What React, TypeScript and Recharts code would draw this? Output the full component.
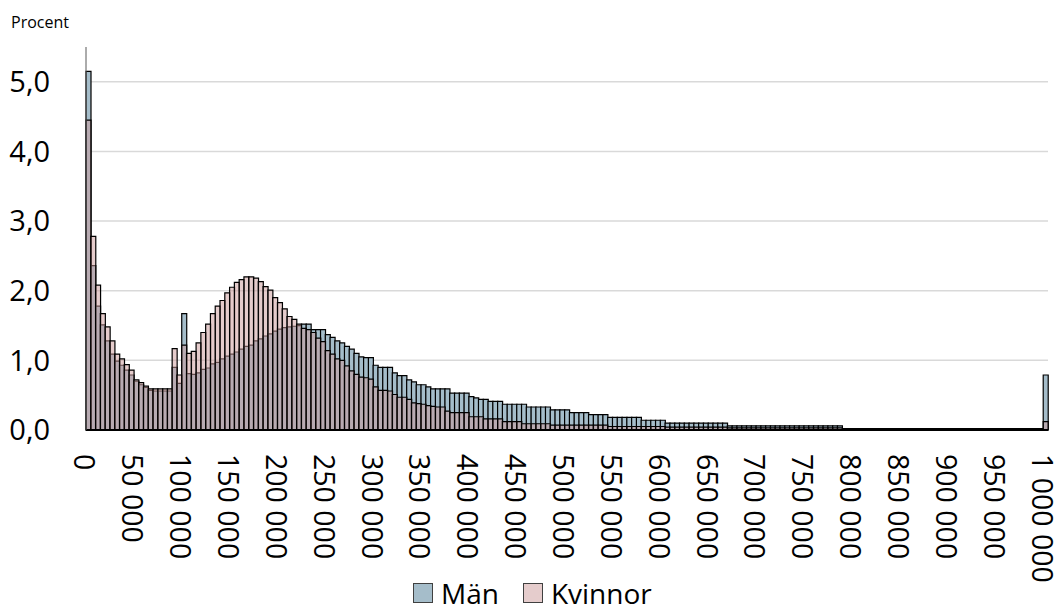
import { BarChart, Bar, XAxis, YAxis, CartesianGrid } from "recharts";

// inkomstklasser à 5 000 kr, 0 .. 1 000 000
const BINS = Array.from({ length: 201 }, (_, i) => i * 5000);

const MEN = [
  5.15, 2.36, 1.78, 1.51, 1.28, 1.09, 0.99, 0.93, 0.86, 0.79,
  0.70, 0.65, 0.61, 0.57, 0.56, 0.56, 0.56, 0.56, 0.90, 0.67,
  1.67, 0.81, 0.80, 0.82, 0.87, 0.89, 0.95, 0.97, 1.02, 1.06,
  1.09, 1.12, 1.16, 1.20, 1.22, 1.28, 1.31, 1.35, 1.38, 1.42,
  1.45, 1.47, 1.48, 1.49, 1.50, 1.52, 1.52, 1.44, 1.44, 1.44,
  1.37, 1.33, 1.28, 1.25, 1.20, 1.16, 1.10, 1.05, 1.04, 1.04,
  0.93, 0.90, 0.90, 0.90, 0.82, 0.78, 0.78, 0.72, 0.69, 0.65,
  0.65, 0.62, 0.59, 0.59, 0.59, 0.59, 0.53, 0.53, 0.53, 0.53,
  0.48, 0.46, 0.44, 0.44, 0.41, 0.41, 0.41, 0.37, 0.37, 0.37,
  0.37, 0.37, 0.33, 0.33, 0.33, 0.33, 0.33, 0.29, 0.29, 0.29,
  0.29, 0.25, 0.25, 0.25, 0.25, 0.22, 0.22, 0.22, 0.22, 0.18,
  0.18, 0.18, 0.18, 0.18, 0.18, 0.18, 0.14, 0.14, 0.14, 0.14,
  0.14, 0.10, 0.10, 0.10, 0.10, 0.10, 0.10, 0.10, 0.10, 0.10,
  0.10, 0.10, 0.10, 0.10, 0.06, 0.06, 0.06, 0.06, 0.06, 0.06,
  0.06, 0.06, 0.06, 0.06, 0.06, 0.06, 0.06, 0.06, 0.06, 0.06,
  0.06, 0.06, 0.06, 0.06, 0.06, 0.06, 0.06, 0.06, 0.02, 0.02,
  0.02, 0.02, 0.02, 0.02, 0.02, 0.02, 0.02, 0.02, 0.02, 0.02,
  0.02, 0.02, 0.02, 0.02, 0.02, 0.02, 0.02, 0.02, 0.02, 0.02,
  0.02, 0.02, 0.02, 0.02, 0.02, 0.02, 0.02, 0.02, 0.02, 0.02,
  0.02, 0.02, 0.02, 0.02, 0.02, 0.02, 0.02, 0.02, 0.02, 0.02,
  0.79,
];

const WOMEN = [
  4.45, 2.78, 2.08, 1.67, 1.48, 1.28, 1.09, 1.02, 0.94, 0.86,
  0.72, 0.68, 0.63, 0.59, 0.59, 0.59, 0.59, 0.59, 1.17, 0.79,
  1.22, 1.10, 1.13, 1.25, 1.40, 1.52, 1.67, 1.78, 1.86, 1.97,
  2.05, 2.12, 2.16, 2.20, 2.20, 2.18, 2.13, 2.06, 2.01, 1.90,
  1.83, 1.74, 1.63, 1.59, 1.52, 1.46, 1.44, 1.40, 1.32, 1.27,
  1.14, 1.09, 1.02, 1.00, 0.92, 0.85, 0.80, 0.76, 0.75, 0.73,
  0.62, 0.57, 0.57, 0.56, 0.51, 0.47, 0.47, 0.44, 0.39, 0.38,
  0.37, 0.35, 0.34, 0.33, 0.33, 0.27, 0.25, 0.25, 0.25, 0.25,
  0.19, 0.19, 0.19, 0.16, 0.16, 0.16, 0.16, 0.12, 0.12, 0.12,
  0.12, 0.09, 0.09, 0.09, 0.09, 0.09, 0.09, 0.07, 0.07, 0.07,
  0.07, 0.07, 0.07, 0.07, 0.07, 0.07, 0.07, 0.07, 0.07, 0.05,
  0.05, 0.05, 0.05, 0.05, 0.05, 0.05, 0.05, 0.05, 0.05, 0.05,
  0.05, 0.04, 0.04, 0.04, 0.04, 0.04, 0.04, 0.04, 0.04, 0.04,
  0.04, 0.04, 0.04, 0.04, 0.03, 0.03, 0.03, 0.03, 0.03, 0.03,
  0.03, 0.03, 0.03, 0.03, 0.03, 0.03, 0.03, 0.03, 0.03, 0.03,
  0.03, 0.03, 0.03, 0.03, 0.03, 0.03, 0.03, 0.03, 0.01, 0.01,
  0.01, 0.01, 0.01, 0.01, 0.01, 0.01, 0.01, 0.01, 0.01, 0.01,
  0.01, 0.01, 0.01, 0.01, 0.01, 0.01, 0.01, 0.01, 0.01, 0.01,
  0.01, 0.01, 0.01, 0.01, 0.01, 0.01, 0.01, 0.01, 0.01, 0.01,
  0.01, 0.01, 0.01, 0.01, 0.01, 0.01, 0.01, 0.01, 0.01, 0.01,
  0.12,
];

const X_TICKS = [
  0, 50000, 100000, 150000, 200000, 250000, 300000, 350000, 400000, 450000,
  500000, 550000, 600000, 650000, 700000, 750000, 800000, 850000, 900000,
  950000, 1000000,
];
const Y_TICKS = [0, 1, 2, 3, 4, 5];

const MEN_COLOR = "#a5bdca";
const WOMEN_COLOR = "#cb9999";
const WOMEN_SWATCH = "#e5cccc";

const data = BINS.map((b, i) => ({ inkomst: b, man: MEN[i], kvinna: WOMEN[i] }));

const fmtThousands = (v: number) =>
  String(v).replace(/\B(?=(\d{3})+(?!\d))/g, " ");

const RotatedTick = (props: any) => {
  const { x, y, payload } = props;
  return (
    <g transform={`translate(${x - 2},${y + 24}) rotate(90)`}>
      <text x={0} y={0} dy="0.42em" textAnchor="start" fontSize={28.5} fill="#000">
        {fmtThousands(payload.value)}
      </text>
    </g>
  );
};

const LegendItem = ({ color, label }: { color: string; label: string }) => (
  <div style={{ display: "flex", alignItems: "center", marginRight: 24 }}>
    <div
      style={{
        width: 18,
        height: 18,
        background: color,
        border: "1.5px solid #404040",
        marginRight: 8,
      }}
    />
    <span style={{ fontSize: 28, lineHeight: "28px" }}>{label}</span>
  </div>
);

export default function App() {
  return (
    <div
      style={{
        position: "absolute",
        left: 0,
        top: 0,
        width: 1059,
        height: 610,
        background: "#fff",
        fontFamily: "'Open Sans', sans-serif",
        color: "#000",
        overflow: "hidden",
      }}
    >
      <div style={{ position: "absolute", left: 11, top: 11, fontSize: 16 }}>Procent</div>
      <BarChart
        width={1059}
        height={610}
        data={data}
        margin={{ top: 47, right: 11, bottom: 0, left: 0 }}
        barCategoryGap={0}
        barGap={0}
      >
        <CartesianGrid
          vertical={false}
          horizontalValues={Y_TICKS}
          stroke="#d9d9d9"
          strokeWidth={1.5}
        />
        <XAxis xAxisId="k" dataKey="inkomst" orientation="top" height={0} hide />
        <XAxis
          xAxisId="m"
          dataKey="inkomst"
          ticks={X_TICKS}
          interval={0}
          height={180}
          tickLine={false}
          tickSize={0}
          tickMargin={0}
          axisLine={{ stroke: "#000", strokeWidth: 2 }}
          tick={<RotatedTick />}
        />
        <YAxis
          domain={[0, 5.5]}
          ticks={Y_TICKS}
          width={86}
          tickLine={false}
          tickSize={0}
          tickMargin={36}
          axisLine={{ stroke: "#595959" }}
          tick={{ fill: "#000", fontSize: 29 }}
          tickFormatter={(v: number) => v.toFixed(1).replace(".", ",")}
        />
        <Bar
          xAxisId="m"
          dataKey="man"
          name="Män"
          fill={MEN_COLOR}
          stroke="#000"
          strokeWidth={1.2}
          isAnimationActive={false}
        />
        <Bar
          xAxisId="k"
          dataKey="kvinna"
          name="Kvinnor"
          fill={WOMEN_COLOR}
          fillOpacity={0.5}
          stroke="#000"
          strokeWidth={1.2}
          isAnimationActive={false}
        />
      </BarChart>
      <div
        style={{
          position: "absolute",
          left: 413,
          top: 579,
          display: "flex",
          alignItems: "center",
        }}
      >
        <LegendItem color={MEN_COLOR} label="Män" />
        <LegendItem color={WOMEN_SWATCH} label="Kvinnor" />
      </div>
    </div>
  );
}
